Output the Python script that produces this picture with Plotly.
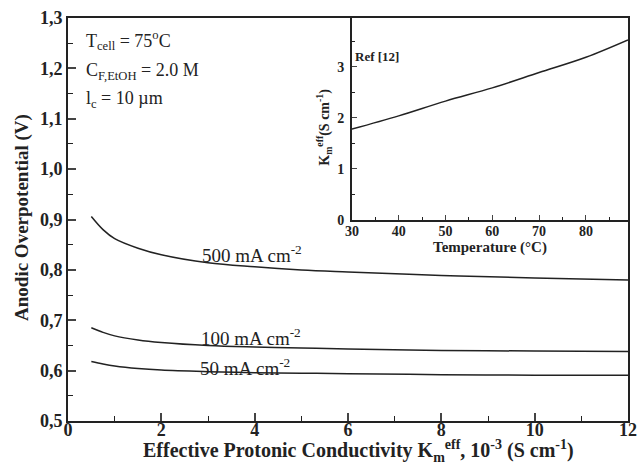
import plotly.graph_objects as go

# Main chart data
k_eff = [0.5, 0.75, 1.0, 1.5, 2.0, 3.0, 4.0, 5.0, 6.0, 8.0, 10.0, 12.0]
eta_500 = [0.906, 0.880, 0.862, 0.843, 0.830, 0.814, 0.806, 0.800, 0.796, 0.789, 0.784, 0.780]
eta_100 = [0.685, 0.676, 0.669, 0.661, 0.656, 0.650, 0.647, 0.645, 0.643, 0.640, 0.639, 0.638]
eta_50 = [0.618, 0.613, 0.609, 0.604, 0.601, 0.598, 0.596, 0.595, 0.594, 0.592, 0.591, 0.591]

# Inset data
temp = [30, 40, 50, 60, 70, 80, 89]
k_temp = [1.78, 2.04, 2.33, 2.59, 2.89, 3.19, 3.53]

series_labels = ["500 mA cm<sup>-2</sup>", "100 mA cm<sup>-2</sup>", "50 mA cm<sup>-2</sup>"]

FONT = "Liberation Serif, Times New Roman, serif"
INK = "#222"

fig = go.Figure()
for ys in (eta_500, eta_100, eta_50):
    fig.add_trace(go.Scatter(x=k_eff, y=ys, mode="lines", line=dict(color=INK, width=1.5, shape="spline"),
                             showlegend=False, xaxis="x", yaxis="y"))
fig.add_trace(go.Scatter(x=temp, y=k_temp, mode="lines", line=dict(color=INK, width=1.5, shape="spline"),
                         showlegend=False, xaxis="x2", yaxis="y2"))

tickfont = dict(family=FONT, size=18, color=INK, weight="bold")
small_tickfont = dict(family=FONT, size=14, color=INK, weight="bold")

fig.update_layout(
    width=639, height=470,
    margin=dict(l=68, r=11, t=18, b=49),
    plot_bgcolor="white", paper_bgcolor="white",
    separators=",.",
    xaxis=dict(range=[0, 12], domain=[0, 1], tickvals=[0, 2, 4, 6, 8, 10, 12], ticks="inside", ticklen=8,
               tickwidth=1.5, showline=True, linewidth=2, linecolor=INK, mirror=True, showgrid=False,
               zeroline=False, tickfont=tickfont, automargin=False, ticklabelstandoff=-9,
               minor=dict(ticks="inside", ticklen=5, dtick=1, tickwidth=1.2, tickcolor=INK)),
    yaxis=dict(range=[0.5, 1.3], domain=[0, 1], dtick=0.1, tickformat=".1f", ticks="inside", ticklen=8,
               tickwidth=1.5, showline=True, linewidth=2, linecolor=INK, mirror=True, showgrid=False,
               zeroline=False, tickfont=tickfont, automargin=False,
               minor=dict(ticks="inside", ticklen=5, dtick=0.05, tickwidth=1.2, tickcolor=INK)),
    xaxis2=dict(range=[30, 89], domain=[0.507, 1.0], anchor="y2", tickvals=[30, 40, 50, 60, 70, 80],
                ticks="inside", ticklen=5, tickwidth=1.2, showline=True, linewidth=1.5, linecolor=INK,
                showgrid=False, zeroline=False, tickfont=small_tickfont, automargin=False,
                ticklabelstandoff=-2,
                minor=dict(ticks="inside", ticklen=3, dtick=5, tickcolor=INK),
                title=dict(text="Temperature (°C)", font=dict(family=FONT, size=15, color=INK, weight="bold"),
                           standoff=0)),
    yaxis2=dict(range=[0, 3.96], domain=[0.499, 1.0], anchor="x2", tickvals=[0, 1, 2, 3],
                ticks="inside", ticklen=5, tickwidth=1.2, showline=True, linewidth=1.5, linecolor=INK,
                showgrid=False, zeroline=False, tickfont=small_tickfont, automargin=False,
                ticklabelstandoff=3,
                minor=dict(ticks="inside", ticklen=3, dtick=0.5, tickcolor=INK)),
)

# axis titles as annotations for exact placement
fig.add_annotation(x=0.518, y=-0.075, xref="paper", yref="paper", xanchor="center", yanchor="middle",
                   text="Effective Protonic Conductivity K<sub>m</sub><sup>eff</sup>, 10<sup>-3</sup> (S cm<sup>-1</sup>)",
                   showarrow=False, font=dict(family=FONT, size=20, color=INK, weight="bold"))
fig.add_annotation(x=-0.082, y=0.504, xref="paper", yref="paper", xanchor="center", yanchor="middle",
                   text="Anodic Overpotential (V)", textangle=-90,
                   showarrow=False, font=dict(family=FONT, size=19, color=INK, weight="bold"))
fig.add_annotation(x=0.457, y=0.730, xref="paper", yref="paper", xanchor="center", yanchor="middle",
                   text="K<sub>m</sub><sup>eff</sup>(S cm<sup>-1</sup>)", textangle=-90,
                   showarrow=False, font=dict(family=FONT, size=14, color=INK, weight="bold"))

ann_font = dict(family=FONT, size=19, color=INK)
label_pos = [(3.95, 0.831), (3.92, 0.666), (3.8, 0.608)]
for (lx, ly), txt in zip(label_pos, series_labels):
    fig.add_annotation(x=lx, y=ly, xref="x", yref="y", text=txt, showarrow=False, font=ann_font)

info_font = dict(family=FONT, size=18, color=INK)
fig.add_annotation(x=0.34, y=1.255, xref="x", yref="y", xanchor="left", yanchor="middle",
                   text="T<sub>cell</sub> = 75<sup>o</sup>C", showarrow=False, font=info_font)
fig.add_annotation(x=0.34, y=1.193, xref="x", yref="y", xanchor="left", yanchor="middle",
                   text="C<sub>F,EtOH</sub> = 2.0 M", showarrow=False, font=info_font)
fig.add_annotation(x=0.34, y=1.139, xref="x", yref="y", xanchor="left", yanchor="middle",
                   text="l<sub>c</sub> = 10 µm", showarrow=False, font=info_font)
fig.add_annotation(x=30.2, y=3.2, xref="x2", yref="y2", xanchor="left", yanchor="middle",
                   text="Ref [12]", showarrow=False, font=dict(family=FONT, size=13, color=INK, weight="bold"))

fig.write_html("out.html", config={"displayModeBar": False},
               post_script="document.body.style.margin='0';document.body.style.overflow='hidden';")
